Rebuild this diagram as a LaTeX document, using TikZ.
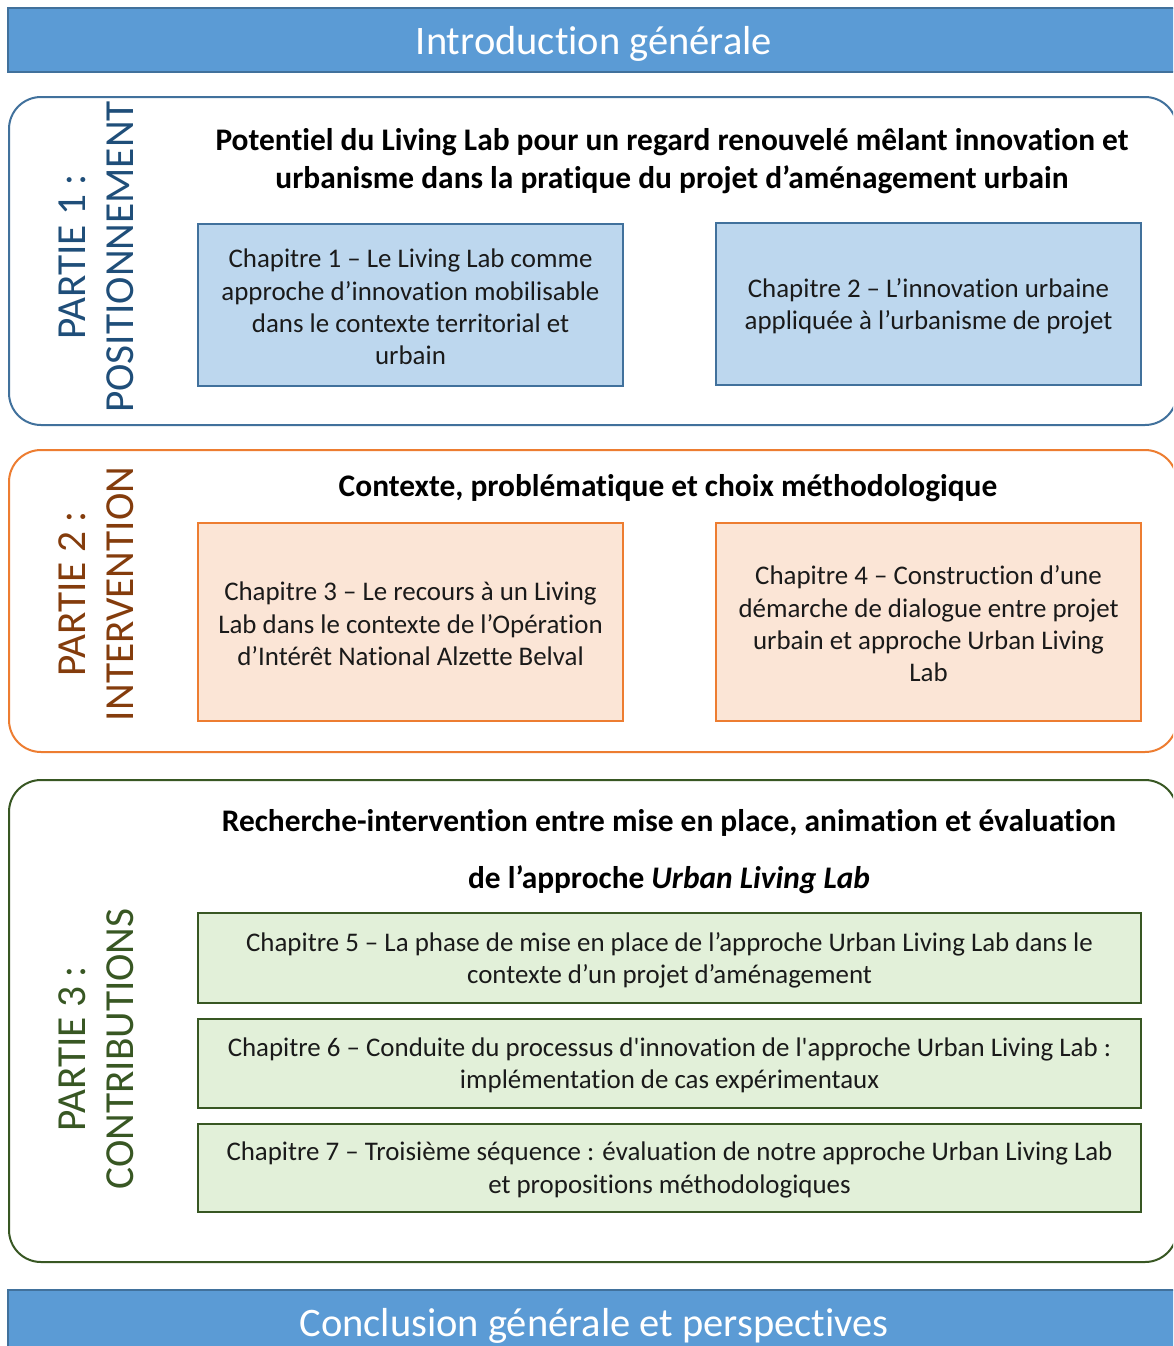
\documentclass[tikz,border=0pt]{standalone}
\usepackage{fontspec}
\setmainfont{Carlito}[Ligatures={TeX,NoCommon}]
\definecolor{barfill}{HTML}{5B9BD5}
\definecolor{barline}{HTML}{41719C}
\definecolor{bluelab}{HTML}{1F4E79}
\definecolor{bluefill}{HTML}{BDD7EE}
\definecolor{blueline}{HTML}{41719C}
\definecolor{orline}{HTML}{ED7D31}
\definecolor{orfill}{HTML}{FBE5D6}
\definecolor{orlab}{HTML}{843C0C}
\definecolor{grline}{HTML}{385723}
\definecolor{grfill}{HTML}{E2F0D9}
\definecolor{txt}{HTML}{1A1A1A}
\tikzset{
  bar/.style={draw=barline, fill=barfill, line width=1.5pt, text=white, minimum width=1172pt, minimum height=64pt, font=\fontsize{40.5}{46}\selectfont},
  part/.style={rounded corners=32pt, line width=2pt, fill=white, minimum width=1168pt},
  chap/.style={line width=2pt, align=center, text=txt, font=\fontsize{26.9}{32.3}\selectfont, inner sep=0pt},
  ttl/.style={align=center, text=black, font=\fontsize{31.4}{37.5}\selectfont\bfseries},
  plab/.style={rotate=90, align=center, font=\fontsize{41.3}{48}\selectfont}
}
\begin{document}
\begin{tikzpicture}[x=1pt,y=-1pt]
\useasboundingbox (0,0) rectangle (1173,1346);
\clip (0,0) rectangle (1173,1346);
\fill[white] (0,0) rectangle (1173,1346);
% bars
\node[bar] (intro) at (594,40) {};
\node[bar] (concl) at (594,1322) {};
\node[text=white, font=\fontsize{40.5}{46}\selectfont] (introtxt) at (intro.center) [yshift=-4pt] {Introduction générale};
\node[text=white, font=\fontsize{40.5}{46}\selectfont] (concltxt) at (concl.center) [yshift=-4pt] {Conclusion générale et perspectives};
% parts
\node[part, draw=blueline, minimum height=328pt] (p1) at (593,261) {};
\node[part, draw=orline, minimum height=302pt] (p2) at (593,601) {};
\node[part, draw=grline, minimum height=482pt] (p3) at (593,1021) {};
% part labels
\node[plab, text=bluelab] (l1) at (96,257) {PARTIE 1 :\\POSITIONNEMENT};
\node[plab, text=orlab] (l2) at (96,594) {PARTIE 2 :\\INTERVENTION};
\node[plab, text=grline] (l3) at (96,1049) {PARTIE 3 :\\CONTRIBUTIONS};
% titles
\node[ttl] (t1) at (672,161) {Potentiel du Living Lab pour un regard renouvelé mêlant innovation et\\urbanisme dans la pratique du projet d’aménagement urbain};
\node[ttl] (t2) at (668,488) {Contexte, problématique et choix méthodologique};
\node[ttl] (t3a) at (669,823) {Recherche-intervention entre mise en place, animation et évaluation};
\node[ttl] (t3b) at (669,880) {de l’approche \textit{Urban Living Lab}};
% chapters part 1
\node[chap, draw=blueline, fill=bluefill, minimum width=425pt, minimum height=162pt] (c1) at (410.5,305) {};
\node[chap] (c1t) at ([yshift=-2pt]c1.center)
  {Chapitre 1 – Le Living Lab comme\\approche d’innovation mobilisable\\dans le contexte territorial et\\urbain};
\node[chap, draw=blueline, fill=bluefill, minimum width=425pt, minimum height=162pt] (c2) at (928.5,304) {};
\node[chap] (c2t) at ([yshift=-2pt]c2.center)
  {Chapitre 2 – L’innovation urbaine\\appliquée à l’urbanisme de projet};
% chapters part 2
\node[chap, draw=orline, fill=orfill, minimum width=425pt, minimum height=198pt] (c3) at (410.5,622) {};
\node[chap] (c3t) at ([yshift=-2pt]c3.center)
  {Chapitre 3 – Le recours à un Living\\Lab dans le contexte de l’Opération\\d’Intérêt National Alzette Belval};
\node[chap, draw=orline, fill=orfill, minimum width=425pt, minimum height=198pt] (c4) at (928.5,622) {};
\node[chap] (c4t) at ([yshift=-2pt]c4.center)
  {Chapitre 4 – Construction d’une\\démarche de dialogue entre projet\\urbain et approche Urban Living\\Lab};
% chapters part 3
\node[chap, draw=grline, fill=grfill, minimum width=943pt, minimum height=90pt] (c5) at (669.5,958) {};
\node[chap] (c5t) at ([yshift=-2pt]c5.center)
  {Chapitre 5 – La phase de mise en place de l’approche Urban Living Lab dans le\\contexte d’un projet d’aménagement};
\node[chap, draw=grline, fill=grfill, minimum width=943pt, minimum height=89pt] (c6) at (669.5,1063.5) {};
\node[chap] (c6t) at ([yshift=-2pt]c6.center)
  {Chapitre 6 – Conduite du processus d\textquotesingle innovation de l\textquotesingle approche Urban Living Lab :\\implémentation de cas expérimentaux};
\node[chap, draw=grline, fill=grfill, minimum width=943pt, minimum height=88pt] (c7) at (669.5,1168) {};
\node[chap] (c7t) at ([yshift=-2pt]c7.center)
  {Chapitre 7 – Troisième séquence : évaluation de notre approche Urban Living Lab\\et propositions méthodologiques};
\end{tikzpicture}
\end{document}
